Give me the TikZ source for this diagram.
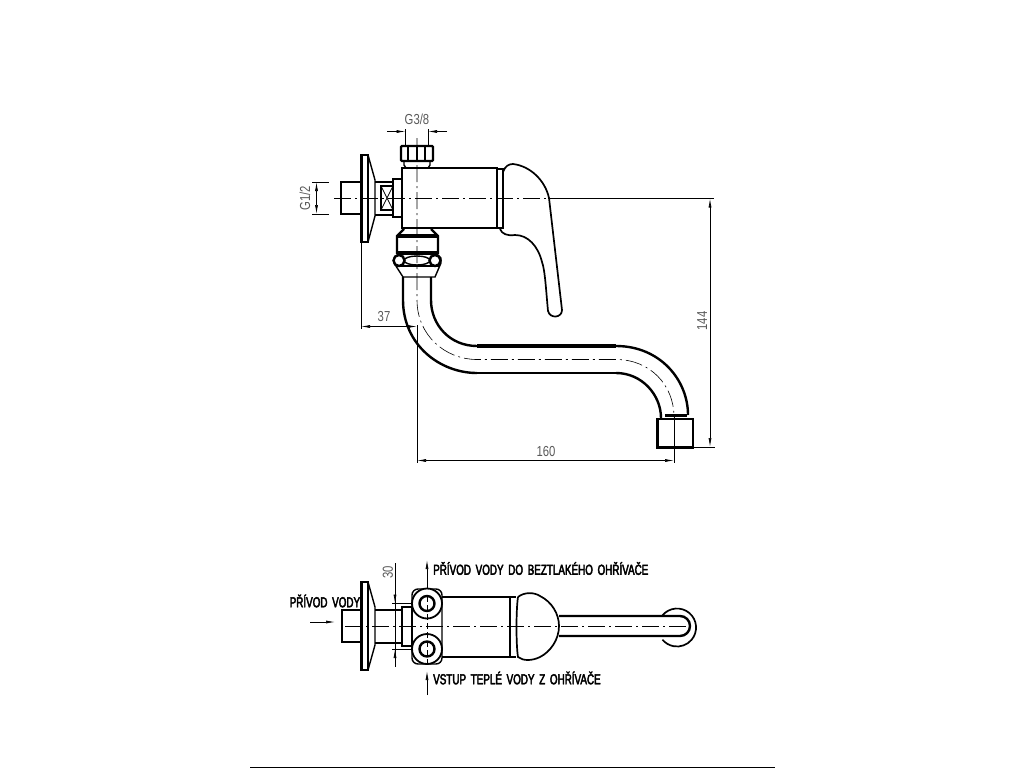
\documentclass[tikz,border=0pt]{standalone}
\usepackage{fontspec}
\usetikzlibrary{arrows.meta}
\newfontfamily\dimfont[FakeStretch=0.78]{Liberation Sans}
\newfontfamily\notefont[FakeStretch=0.68,FakeBold=3,WordSpace=1.7]{Liberation Sans}
\tikzset{
  outline/.style={line width=2.4pt,line join=miter},
  heavy/.style={line width=3.4pt},
  fine/.style={line width=1.4pt},
  axisline/.style={line width=0.6pt,dash pattern=on 17pt off 4pt on 2pt off 4pt},
  dimline/.style={line width=0.7pt},
  dimarrow/.style={line width=0.7pt,{Latex[length=9pt,width=3pt]}-{Latex[length=9pt,width=3pt]}},
  tiparrow/.style={line width=0.7pt,-{Latex[length=9pt,width=3pt]}},
  dimtext/.style={inner sep=0pt,text=black!65,font=\dimfont\fontsize{14.5}{14.5}\selectfont},
  notetext/.style={inner sep=0pt,anchor=west,font=\notefont\fontsize{14.5}{15}\selectfont}
}
\begin{document}
\begin{tikzpicture}[x=1pt,y=-1pt]
\useasboundingbox (0,0) rectangle (1024,768);

%side view, wall part
\draw[outline] (362,182) -- (341,182) -- (341,214) -- (362,214);
\draw[outline] (361.5,155) rectangle (368,242);
\draw[fine] (368,155) -- (375,180) -- (375,216) -- (368,242);
\draw[outline] (375,182) -- (393,182) (375,215) -- (393,215);
\draw[outline] (393,186) -- (381,186) -- (381,210) -- (393,210);
\draw[dimline] (381,186) -- (393,210) (381,210) -- (393,186);
\draw[outline] (393,179) rectangle (402,217);

%side view, body
\draw[outline] (402,168) rectangle (497,228);
\draw[fine] (497,169) -- (503,169) -- (503,228) -- (497,228);

%top nut
\draw[outline,rounded corners=1pt] (401,146) rectangle (433,161);
\foreach \x in {408,417,425} {
\draw[fine] (\x,146) -- (\x,161);
}
\draw[fine] (404,161) -- (404,165) -- (406,168) (430,161) -- (430,165) -- (428,168);

%handle
\draw[line width=1.7pt] (503,172) .. controls (505,166) and (509,164) .. (513,164)
  .. controls (530,166) and (545,180) .. (549,198)
  -- (562,310) .. controls (562,318) and (550,319) .. (548,311)
  .. controls (546,290) and (545,270) .. (542,262)
  .. controls (538,246) and (528,235) .. (515,235)
  .. controls (507,236) and (502,234) .. (500,229);

%lower nut
\draw[outline] (404,229) -- (397,236) -- (397,253) -- (438,253) -- (438,236) -- (431,229);
\draw[heavy] (397,236) -- (438,236) (397,253) -- (438,253);
\draw[fine] (398,254) -- (394,258) -- (394,263) -- (403,277) -- (435,277) -- (441,263) -- (441,258) -- (437,254);
\foreach \x in {399,435} {
\draw[outline] (\x,260.5) circle (5.5);
}
\draw[fine] (417,260.5) ellipse (13 and 4.5);
\draw[fine] (396,266) -- (440,266);

%spout
\draw[outline] (403,277) -- (403,300) .. controls (403,345) and (440,373) .. (477,373);
\draw[outline] (431,277) -- (431,300) .. controls (431,325) and (450,346) .. (477,346);
\draw[heavy] (477,346) -- (616,346);
\draw[line width=2.8pt] (477,373) -- (616,373);
\draw[outline] (616,346) .. controls (660,346) and (688,380) .. (688,415);
\draw[outline] (616,373) .. controls (642,373) and (661,395) .. (661,418);
\draw[heavy] (665,415.5) -- (687,415.5);
\draw[line width=2.8pt] (657.5,419) rectangle (693,447.5);

%side view, centre lines
\draw[axisline] (334,198.5) -- (549,198.5);
\draw[dimline] (549,198.5) -- (714,198.5);
\draw[axisline] (417,138) -- (417,300) .. controls (417,335) and (445,359.5) .. (477,359.5)
  -- (616,359.5) .. controls (650,359.5) and (674,385) .. (674,417);

%side view, dimensions
\draw[dimline] (405.5,129) -- (405.5,146) (428,129) -- (428,146);
\draw[tiparrow] (387,131.5) -- (405.5,131.5);
\draw[tiparrow] (447,131.5) -- (428,131.5);
\node[dimtext] (g38) at (417,119.5) {G3/8};
\draw[dimline] (312,182) -- (329,182) (312,214) -- (329,214);
\draw[dimarrow] (316.5,182) -- (316.5,214);
\node[dimtext,rotate=90] (g12) at (305,198.5) {G1/2};
\draw[dimline] (361,242) -- (361,329);
\draw[dimline] (417,325) -- (417,463);
\draw[dimarrow] (361,326.5) -- (417,326.5);
\node[dimtext] (d37) at (384,317) {37};
\draw[dimline] (674,417) -- (674,463);
\draw[dimarrow] (417,460.5) -- (674,460.5);
\node[dimtext] (d160) at (546,452) {160};
\draw[dimline] (693,447) -- (715,447);
\draw[dimarrow] (710,198.5) -- (710,447);
\node[dimtext,rotate=90] (d144) at (702,321) {144};

%plan view, wall part
\draw[outline] (362,610) -- (342,610) -- (342,642) -- (362,642);
\draw[outline] (361.5,582) rectangle (368,670);
\draw[fine] (368,582) -- (375,607) -- (375,645) -- (368,670);
\draw[outline] (375,610) -- (402,610) (375,643) -- (402,643);
\draw[outline] (402,607) rectangle (412,646);

%plan view, body
\draw[outline] (442,597) -- (510,597) (442,657) -- (510,657);
\draw[outline] (510,597) -- (510,657);
\draw[fine] (510,597) -- (516,597) (510,657) -- (516,657);
\draw[line width=1.7pt] (518,597) .. controls (524,592) and (534,592) .. (540,596)
  .. controls (552,602) and (559,614) .. (559,626)
  .. controls (559,640) and (550,652) .. (540,657)
  .. controls (532,661) and (523,661) .. (518,657)
  .. controls (516,645) and (516,610) .. (518,597);

%block with the two connections
\draw[fine,rounded corners=6pt] (412,589) rectangle (442,664);
\foreach \y in {603.5,649} {
\draw[fill=white,line width=1.8pt] (427,\y) circle (15);
\draw[outline] (427,\y) circle (7.5);
\draw[dimline] (392,\y) -- (412,\y);
}

%plan view, lever
\draw[outline] (559,616) -- (680,616) arc[start angle=-90,end angle=90,radius=10] -- (559,636);
\draw[line width=1.7pt] (662.5,615.3) arc[start angle=-140,end angle=140,radius=19];

%plan view, centre lines
\draw[axisline] (345,626) -- (688,626);
\draw[dimline,dash pattern=on 6pt off 3pt] (427,596) -- (427,664);

%plan view, dimensions and notes
\draw[dimline] (395,563) -- (395,667);
\draw[tiparrow] (395,592) -- (395,603.5);
\draw[tiparrow] (395,660) -- (395,649);
\node[dimtext,rotate=90] (d30) at (388,572) {30};
\draw[tiparrow] (310,622) -- (335,622);
\node[notetext] (supply) at (289.5,601) {PŘÍVOD VODY};
\draw[tiparrow] (427,588) -- (427,560);
\node[notetext] (heaterin) at (433,568.5) {PŘÍVOD VODY DO BEZTLAKÉHO OHŘÍVAČE};
\draw[tiparrow] (427,695) -- (427,671);
\node[notetext] (heaterout) at (433,678) {VSTUP TEPLÉ VODY Z OHŘÍVAČE};

%rule at the foot of the sheet
\draw[line width=1pt] (250,767.5) -- (775,767.5);
\end{tikzpicture}
\end{document}
